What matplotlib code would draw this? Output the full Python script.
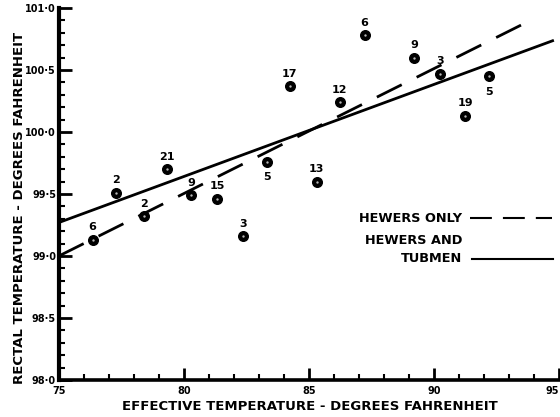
import matplotlib
matplotlib.use("Agg")
import matplotlib.pyplot as plt
import numpy as np
from matplotlib.ticker import MultipleLocator, FixedLocator, FixedFormatter

# Data
eff_temp = [76.35, 77.27, 78.39, 79.34, 80.30, 81.33, 82.37, 83.33, 84.24, 85.32,
            86.24, 87.23, 89.22, 90.26, 91.25, 92.21]
rectal_temp = [99.13, 99.51, 99.32, 99.70, 99.49, 99.46, 99.16, 99.76, 100.37, 99.60,
               100.24, 100.78, 100.60, 100.47, 100.13, 100.45]
counts = ["6", "2", "2", "21", "9", "15", "3", "5", "17", "13",
          "12", "6", "9", "3", "19", "5"]
label_below = [False, False, False, False, False, False, False, True, False, False,
               False, False, False, False, False, True]

# Regression lines (endpoints)
solid_x = [75.0, 94.8]
solid_y = [99.27, 100.74]
dashed_x = [75.0, 93.76]
dashed_y = [99.00, 100.89]

xticks = [75, 80, 85, 90, 95]
yticks = [98.0, 98.5, 99.0, 99.5, 100.0, 100.5, 101.0]
ytick_labels = ["98·0", "98·5", "99·0", "99·5", "100·0", "100·5", "101·0"]

fig = plt.figure(figsize=(5.6, 4.17), dpi=100)
ax = fig.add_axes([0.105, 0.0887, 0.893, 0.892])
ax.set_xlim(75, 95)
ax.set_ylim(98.0, 101.0)

for s in ["top", "right"]:
    ax.spines[s].set_visible(False)
ax.spines["left"].set_linewidth(3.0)
ax.spines["bottom"].set_linewidth(2.6)

ax.xaxis.set_major_locator(FixedLocator(xticks))
ax.xaxis.set_minor_locator(MultipleLocator(1))
ax.yaxis.set_major_locator(FixedLocator(yticks))
ax.yaxis.set_major_formatter(FixedFormatter(ytick_labels))
ax.yaxis.set_minor_locator(MultipleLocator(0.1))
ax.tick_params(axis="both", which="major", direction="in", length=9, width=2.0,
               labelsize=7, pad=2)
ax.tick_params(axis="both", which="minor", direction="in", length=4, width=1.5)
ax.tick_params(axis="x", which="major", pad=4)
for lab in ax.get_xticklabels() + ax.get_yticklabels():
    lab.set_fontweight("bold")
xl = ax.get_xticklabels()
xl[-1].set_horizontalalignment("right")

# Lines
ax.plot(solid_x, solid_y, color="black", lw=2.0, solid_capstyle="butt", zorder=2)
ax.plot(dashed_x, dashed_y, color="black", lw=2.0, dashes=(10, 6), zorder=2)

# Points
ax.scatter(eff_temp, rectal_temp, s=48, color="black", zorder=3)
ax.scatter(eff_temp, rectal_temp, s=0.5, color="#bbbbbb", zorder=4)

for x, y, c, below in zip(eff_temp, rectal_temp, counts, label_below):
    if below:
        ax.annotate(c, (x, y), xytext=(0, -11), textcoords="offset points",
                    ha="center", va="center", fontsize=8, fontweight="bold")
    else:
        ax.annotate(c, (x, y), xytext=(0, 9), textcoords="offset points",
                    ha="center", va="center", fontsize=8, fontweight="bold")

# Legend drawn as text + lines (figure coords)
fig.text(462/560, 1-218/417, "HEWERS ONLY", ha="right", va="center",
         fontsize=9.3, fontweight="bold")
fig.text(462/560, 1-240/417, "HEWERS AND", ha="right", va="center",
         fontsize=9.3, fontweight="bold")
fig.text(462/560, 1-259/417, "TUBMEN", ha="right", va="center",
         fontsize=9.3, fontweight="bold")
fig.add_artist(plt.Line2D([470/560, 552/560], [1-218/417, 1-218/417],
                          color="black", lw=1.5, dashes=(10.5, 5.3)))
fig.add_artist(plt.Line2D([472/560, 553/560], [1-259/417, 1-259/417],
                          color="black", lw=1.5))

fig.text(310/560, 1-407/417, "EFFECTIVE TEMPERATURE - DEGREES FAHRENHEIT",
         ha="center", va="center", fontsize=9.5, fontweight="bold")
fig.text(20/560, 1-208/417, "RECTAL TEMPERATURE - DEGREES FAHRENHEIT",
         ha="center", va="center", rotation=90, fontsize=9.5, fontweight="bold")

fig.savefig("out.png", dpi=100)
